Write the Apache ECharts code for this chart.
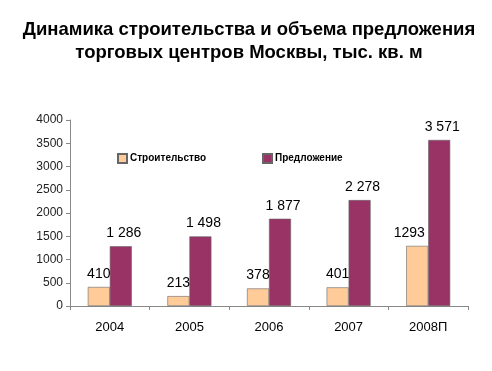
<!DOCTYPE html>
<html><head><meta charset="utf-8">
<script src="https://cdn.jsdelivr.net/npm/echarts@6/dist/echarts.min.js"></script>
<style>html,body{margin:0;padding:0;background:#fff}#c{width:492px;height:371px}</style>
</head><body><div id="c"></div>
<script>
const categories = ['2004', '2005', '2006', '2007', '2008П'];
const construction = [410, 213, 378, 401, 1293];
const supply = [1286, 1498, 1877, 2278, 3571];
const yTicks = [0, 500, 1000, 1500, 2000, 2500, 3000, 3500, 4000];
const titleText = 'Динамика строительства и объема предложения\nторговых центров Москвы, тыс. кв. м';

const FONT = '"Liberation Sans", Arial, sans-serif';
function spaced(v) { return String(v).replace(/\B(?=(\d{3})+(?!\d))/g, ' '); }

const constructionData = construction.map((v, i) =>
  i === construction.length - 1 ? { value: v, label: { offset: [-8, 0] } } : v);

const chart = echarts.init(document.getElementById('c'));
chart.setOption({
  animation: false,
  backgroundColor: '#fff',
  title: {
    text: titleText, left: 244, textAlign: 'center', top: 13,
    textStyle: { fontFamily: FONT, fontWeight: 'bold', fontSize: 18.5, color: '#000', lineHeight: 23 }
  },
  legend: [{
    data: ['Строительство'], left: 112, top: 148, icon: 'rect', itemWidth: 9, itemHeight: 9,
    textStyle: { fontFamily: FONT, fontWeight: 'bold', fontSize: 10, color: '#000', padding: [0, 0, 0, -2] }
  }, {
    data: ['Предложение'], left: 257, top: 148, icon: 'rect', itemWidth: 9, itemHeight: 9,
    textStyle: { fontFamily: FONT, fontWeight: 'bold', fontSize: 10, color: '#000', padding: [0, 0, 0, -2] }
  }],
  grid: { left: 70, right: 24, top: 120, bottom: 65 },
  xAxis: {
    type: 'category', data: categories,
    axisLine: { lineStyle: { color: '#888' } },
    axisTick: { show: true, length: 4, lineStyle: { color: '#888' } },
    axisLabel: { fontFamily: FONT, fontSize: 13, color: '#000', margin: 15 }
  },
  yAxis: {
    type: 'value', min: yTicks[0], max: yTicks[yTicks.length - 1], interval: 500,
    splitLine: { show: false },
    axisLine: { show: true, lineStyle: { color: '#888' } },
    axisTick: { show: true, length: 4, lineStyle: { color: '#888' } },
    axisLabel: { fontFamily: FONT, fontSize: 12, color: '#222', margin: 7, formatter: v => String(v) }
  },
  series: [{
    name: 'Строительство', type: 'bar', data: constructionData, barWidth: 22, barGap: '0%',
    itemStyle: { color: '#FFCC99', borderColor: '#666', borderWidth: 0.6 },
    label: { show: true, position: 'top', distance: 6, fontFamily: FONT, fontSize: 14, color: '#000', formatter: p => String(p.value) }
  }, {
    name: 'Предложение', type: 'bar', data: supply, barWidth: 22, barGap: '0%',
    itemStyle: { color: '#993366', borderColor: '#666', borderWidth: 0.6 },
    label: { show: true, position: 'top', distance: 6, offset: [3, 0], fontFamily: FONT, fontSize: 14, color: '#000', formatter: p => spaced(p.value) }
  }]
});
</script></body></html>
